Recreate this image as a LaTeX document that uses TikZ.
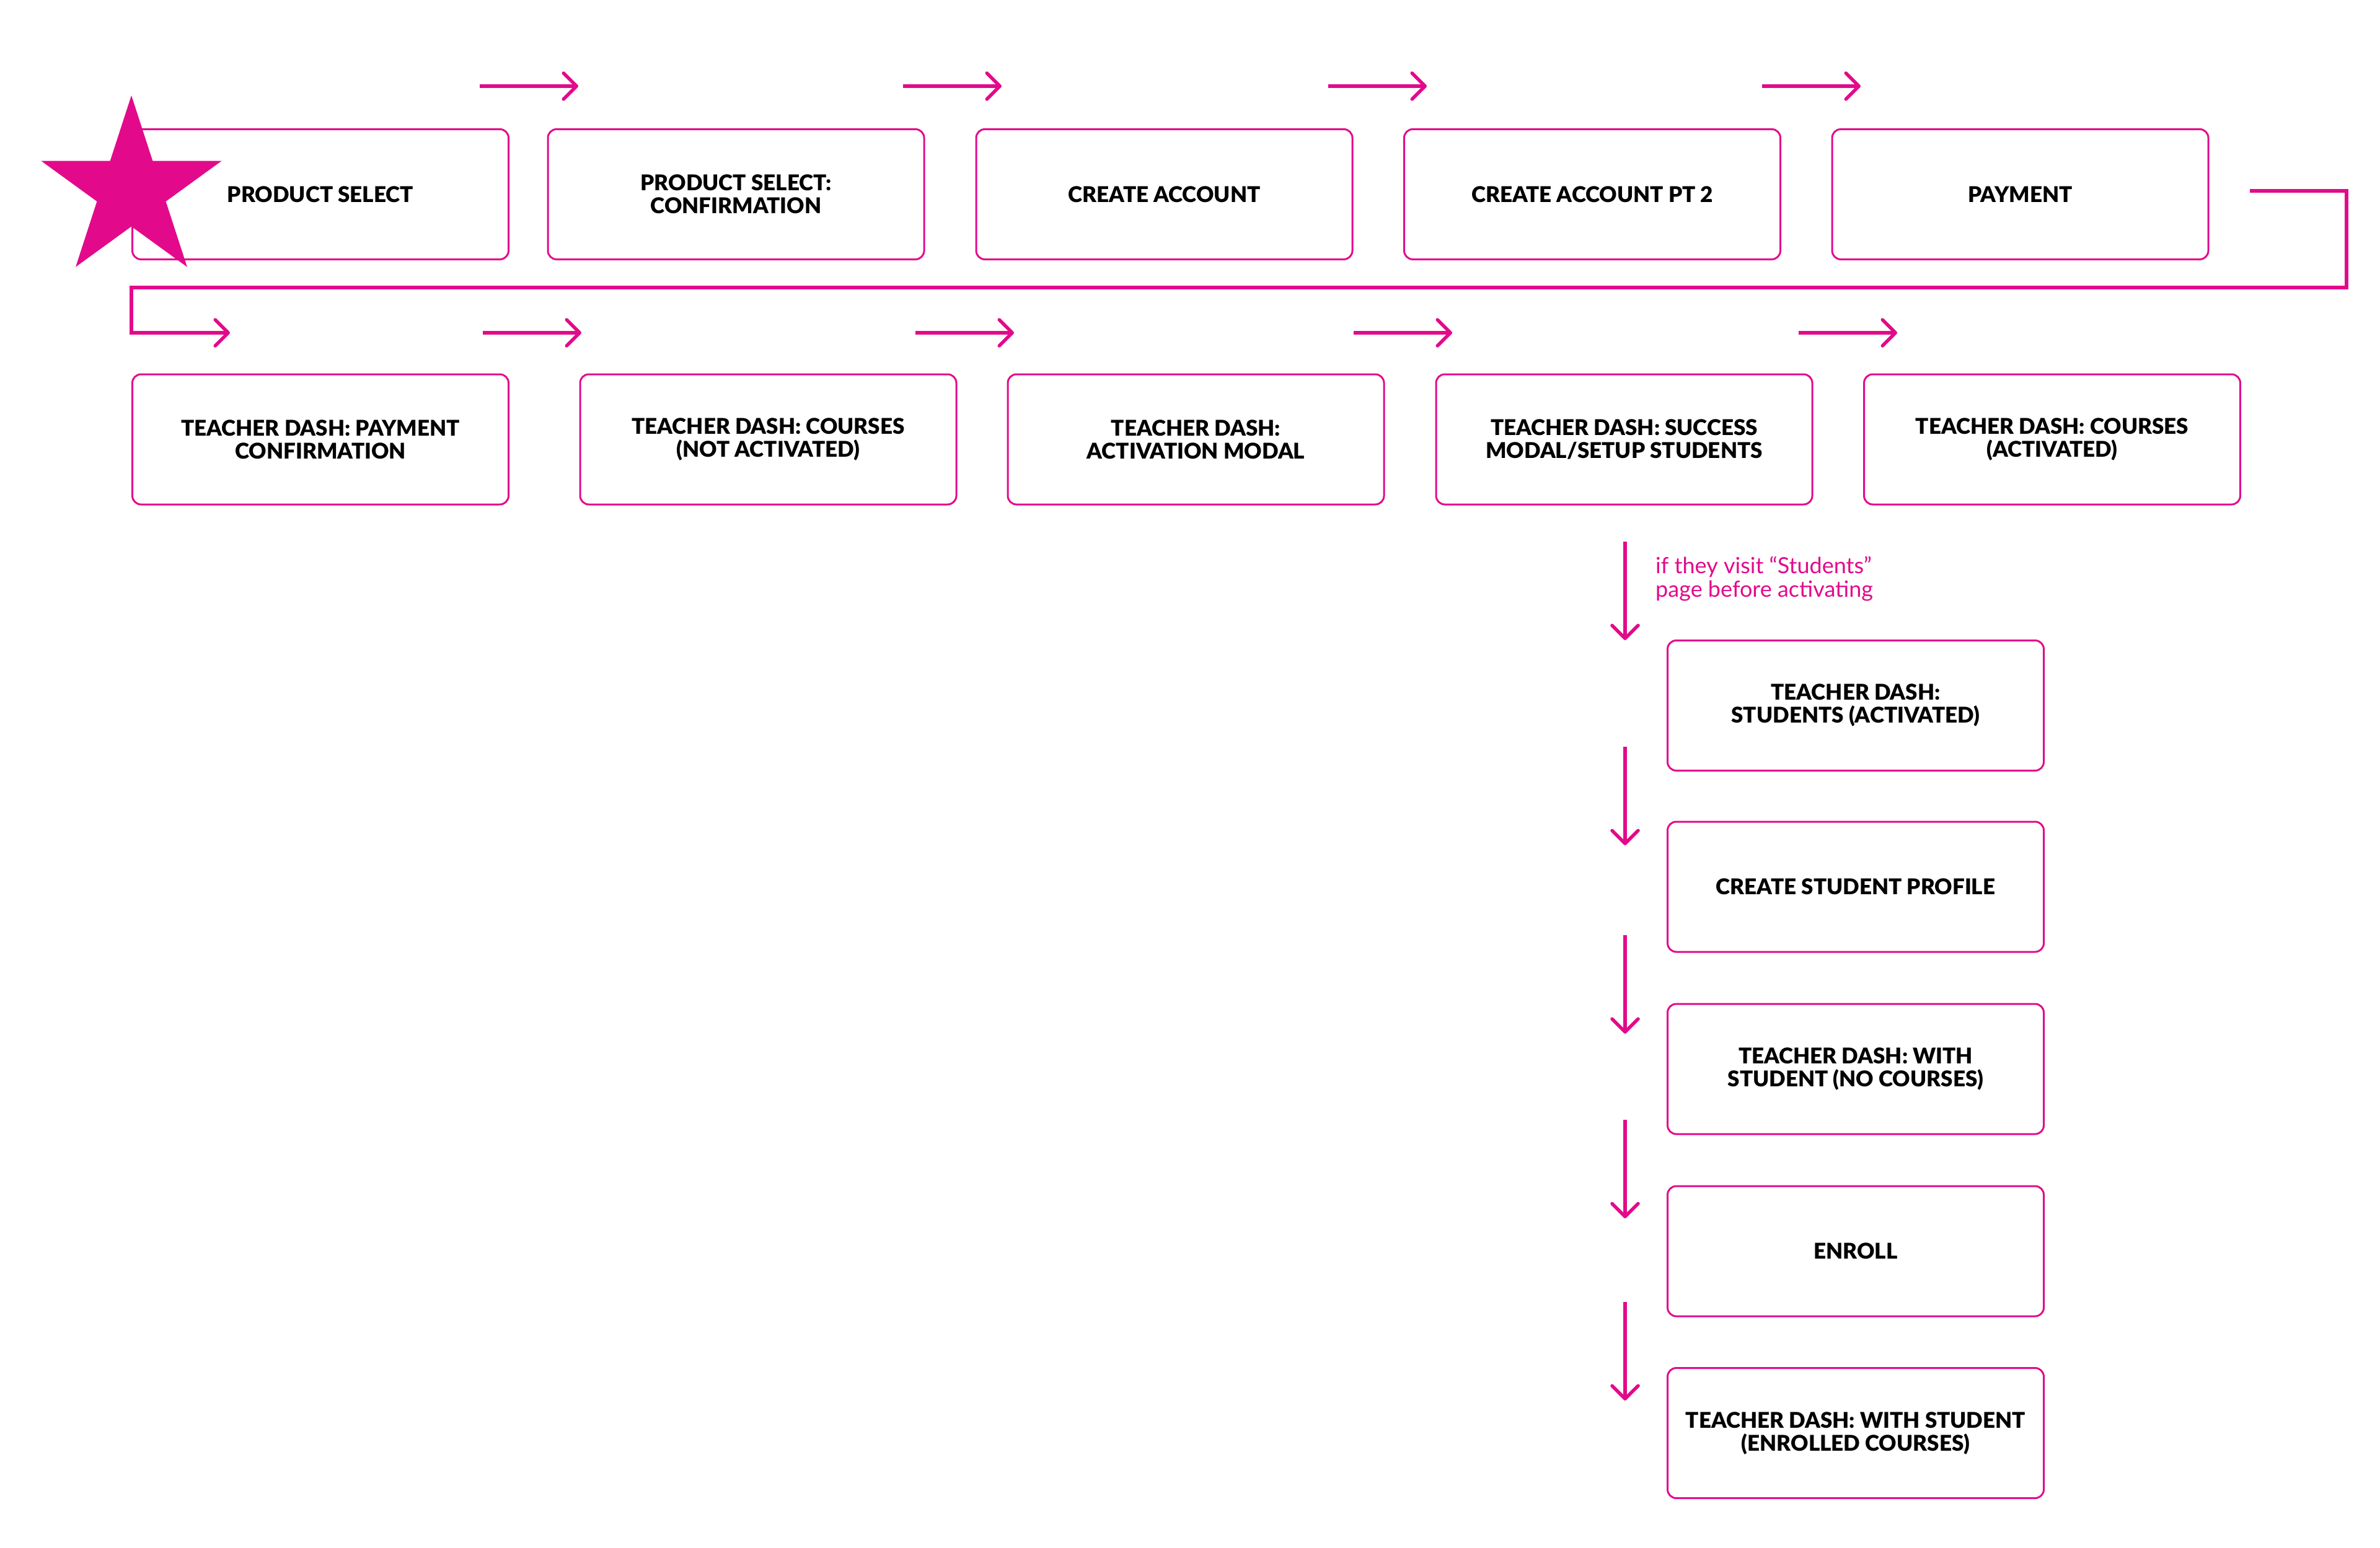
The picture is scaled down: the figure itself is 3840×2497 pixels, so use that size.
\documentclass[tikz,border=0pt]{standalone}
\usepackage{fontspec}
\setmainfont{Lato}
\newfontfamily\boxfont{Lato Black}
\usetikzlibrary{shapes.geometric,arrows.meta}
\definecolor{mag}{HTML}{E20A8B}
\begin{document}
\begin{tikzpicture}[x=1pt,y=-1pt,
  box/.style={draw=mag, line width=3pt, rounded corners=14pt, minimum width=607pt,
    minimum height=210pt, align=center, inner sep=0pt,
    font=\fontsize{35}{37}\selectfont\boxfont},
  flow/.style={draw=mag, line width=5.5pt, line cap=butt,
    -{Straight Barb[length=21pt,width=42pt,round]}},
  note/.style={text=mag, align=left, inner sep=0pt, font=\fontsize{36}{38}\selectfont}]
\useasboundingbox (0,0) rectangle (3840,2497);

% row 1
\node[box] (a1) at (517,313.5) {PRODUCT SELECT};
\node[box] (a2) at (1187.5,313.5) {PRODUCT SELECT:\\CONFIRMATION};
\node[box] (a3) at (1878.5,313.5) {CREATE ACCOUNT};
\node[box] (a4) at (2569,313.5) {CREATE ACCOUNT PT 2};
\node[box] (a5) at (3259.5,313.5) {PAYMENT};
% row 2
\node[box] (b1) at (517,709) {TEACHER DASH: PAYMENT\\CONFIRMATION};
\node[box] (b2) at (1239.5,709) {TEACHER DASH: COURSES\\(NOT ACTIVATED)};
\node[box] (b3) at (1929.5,709) {TEACHER DASH:\\ACTIVATION MODAL};
\node[box] (b4) at (2620.5,709) {TEACHER DASH: SUCCESS\\MODAL/SETUP STUDENTS};
\node[box] (b5) at (3311,709) {TEACHER DASH: COURSES\\(ACTIVATED)};
% column
\node[box] (c1) at (2994,1138.5) {TEACHER DASH:\\STUDENTS (ACTIVATED)};
\node[box] (c2) at (2994,1431) {CREATE STUDENT PROFILE};
\node[box] (c3) at (2994,1725) {TEACHER DASH: WITH\\STUDENT (NO COURSES)};
\node[box] (c4) at (2994,2019) {ENROLL};
\node[box] (c5) at (2994,2312.5) {TEACHER DASH: WITH STUDENT\\(ENROLLED COURSES)};

% star
\node[star, star points=5, star point ratio=2.618, fill=mag, draw=none,
  minimum size=306pt, inner sep=0pt] (st) at (212,307) {};

% horizontal arrows row 1
\foreach \s/\n in {774/1,1457/2,2143/3,2843/4}{
  \coordinate (r1s\n) at (\s,139);
  \coordinate (r1e\n) at (\s+159,139);
  \draw[flow] (r1s\n) -- (r1e\n);
}
% horizontal arrows row 2
\foreach \s/\n in {779/1,1477/2,2184/3,2902/4}{
  \coordinate (r2s\n) at (\s,537);
  \coordinate (r2e\n) at (\s+159,537);
  \draw[flow] (r2s\n) -- (r2e\n);
}
% vertical arrows
\foreach \s/\n in {874/1,1205/2,1509/3,1807/4,2101/5}{
  \coordinate (vs\n) at (2622,\s);
  \coordinate (ve\n) at (2622,\s+159);
  \draw[flow] (vs\n) -- (ve\n);
}

% return connector
\coordinate (k0) at (3630,308);
\coordinate (k1) at (3786,308);
\coordinate (k2) at (3786,464);
\coordinate (k3) at (212,464);
\coordinate (k4) at (212,537);
\coordinate (k5) at (371,537);
\draw[flow, line join=miter] (k0) -- (k1) -- (k2) -- (k3) -- (k4) -- (k5);

% note
\node[note, anchor=base west] (nt) at (2671,963) {if they visit “Students”\\page before activating};
\end{tikzpicture}
\end{document}
